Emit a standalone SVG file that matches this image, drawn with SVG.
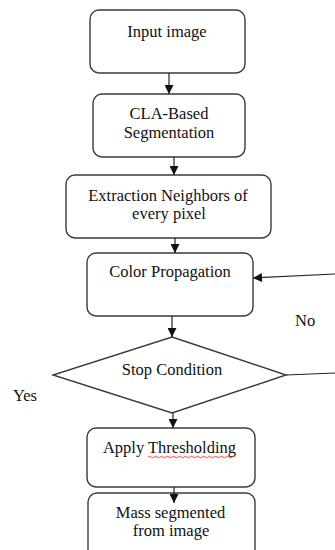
<svg xmlns="http://www.w3.org/2000/svg" width="335" height="550" viewBox="0 0 335 550">
<style>
.box{fill:#fff;stroke:#3a3a3a;stroke-width:1.4}
.ln{fill:none;stroke:#222;stroke-width:1.2}
.t{font-family:"Liberation Serif","Times New Roman",serif;font-size:16.5px;fill:#111;text-anchor:middle}
.l{font-family:"Liberation Serif","Times New Roman",serif;font-size:16.5px;fill:#111}
</style>
<defs>
<marker id="ah" viewBox="0 0 10 10" refX="10" refY="5" markerWidth="9" markerHeight="9" markerUnits="userSpaceOnUse" orient="auto">
<path d="M0,0 L10,5 L0,10 z" fill="#111"/>
</marker>
</defs>
<rect width="335" height="550" fill="#fff"/>
<g id="n1">
<rect class="box" x="90" y="10" width="155" height="63" rx="9"/>
<text class="t" x="167" y="37">Input image</text>
</g>
<g id="n2">
<rect class="box" x="93" y="94" width="152" height="63" rx="9"/>
<text class="t" x="169" y="119">CLA-Based</text>
<text class="t" x="169" y="138">Segmentation</text>
</g>
<g id="n3">
<rect class="box" x="66" y="175" width="205" height="63" rx="9"/>
<text class="t" x="168" y="201">Extraction Neighbors of</text>
<text class="t" x="169" y="219">every pixel</text>
</g>
<g id="n4">
<rect class="box" x="87" y="253" width="166" height="63" rx="9"/>
<text class="t" x="170" y="277">Color Propagation</text>
</g>
<g id="n5">
<polygon class="box" points="172,337 286,375 172,413 53,375"/>
<text class="t" x="172" y="375">Stop Condition</text>
</g>
<g id="n6">
<rect class="box" x="87" y="428" width="168" height="59" rx="9"/>
<text class="t" x="169.5" y="453">Apply Thresholding</text>
<path d="M148,457 q1.5,-1.5 3,0 t3,0 t3,0 t3,0 t3,0 t3,0 t3,0 t3,0 t3,0 t3,0 t3,0 t3,0 t3,0 t3,0 t3,0 t3,0 t3,0 t3,0 t3,0 t3,0 t3,0 t3,0 t3,0 t3,0 t3,0 t3,0 t3,0 t3,0 t3,0" fill="none" stroke="#e02020" stroke-width="0.8"/>
</g>
<g id="n7">
<rect class="box" x="88" y="493" width="167" height="70" rx="9"/>
<text class="t" x="170.5" y="518">Mass segmented</text>
<text class="t" x="171" y="536">from image</text>
</g>
<g id="labels">
<text class="l" x="295" y="326">No</text>
<text class="l" x="13" y="401">Yes</text>
</g>
<g id="connectors">
<line class="ln" x1="169" y1="73" x2="169" y2="94" marker-end="url(#ah)"/>
<line class="ln" x1="174" y1="157" x2="174" y2="175" marker-end="url(#ah)"/>
<line class="ln" x1="175" y1="238" x2="175" y2="253" marker-end="url(#ah)"/>
<line class="ln" x1="172" y1="316" x2="172" y2="337" marker-end="url(#ah)"/>
<line class="ln" x1="173" y1="413" x2="173" y2="428" marker-end="url(#ah)"/>
<line class="ln" x1="174" y1="487" x2="174" y2="503" marker-end="url(#ah)"/>
<line class="ln" x1="286" y1="375" x2="335" y2="373"/>
<line class="ln" x1="335" y1="274" x2="253" y2="278" marker-end="url(#ah)"/>
</g>
</svg>
